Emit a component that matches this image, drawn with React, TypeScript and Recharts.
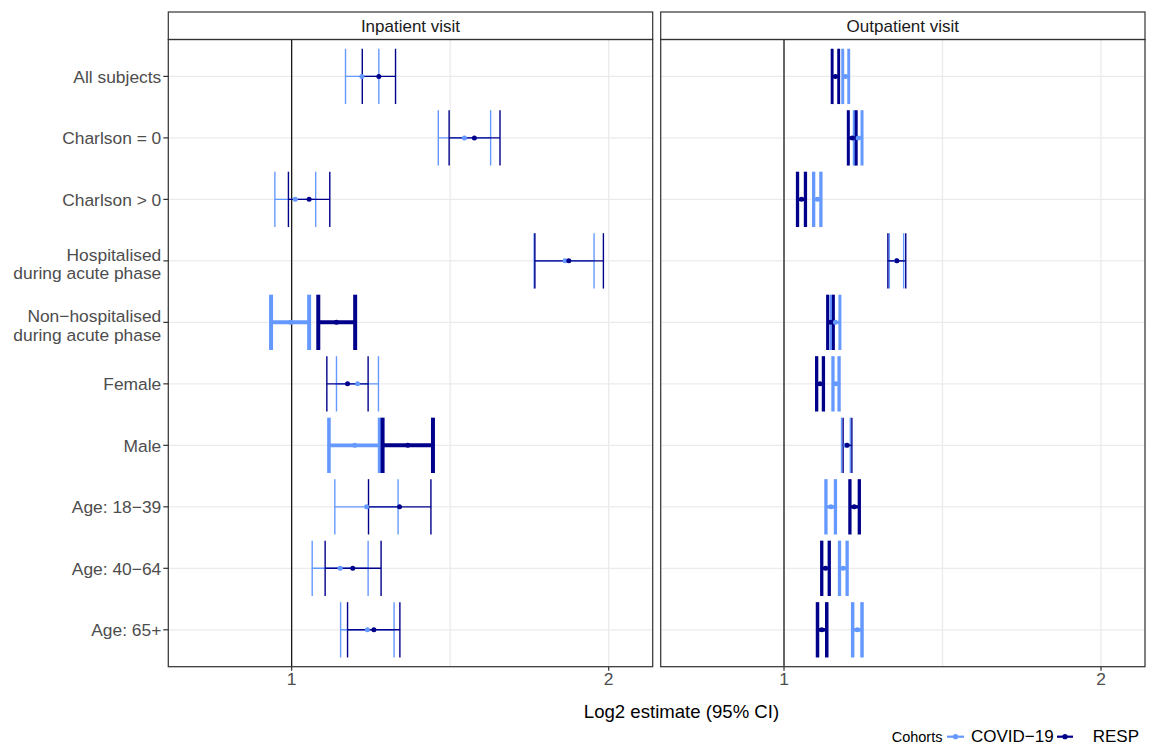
import React from "react";
import {
  ComposedChart,
  Scatter,
  ErrorBar,
  XAxis,
  YAxis,
  CartesianGrid,
  ReferenceLine,
} from "recharts";

// ---------------- data ----------------
const categories = [
  "All subjects",
  "Charlson = 0",
  "Charlson > 0",
  "Hospitalised\nduring acute phase",
  "Non\u2212hospitalised\nduring acute phase",
  "Female",
  "Male",
  "Age: 18\u221239",
  "Age: 40\u221264",
  "Age: 65+",
];
const panelTitles = ["Inpatient visit", "Outpatient visit"];
const cohorts = ["COVID\u221219", "RESP"];
const xTickValues = [1, 2];
const axisTitle = "Log2 estimate (95% CI)";
const legendTitle = "Cohorts";

// Inpatient visit
const inpCovidEst = [1.166, 1.459, 1.008, 1.818, 0.998, 1.155, 1.148, 1.178, 1.112, 1.18];
const inpCovidLo = [1.125, 1.378, 0.964, 1.699, 0.956, 1.103, 1.085, 1.099, 1.046, 1.113];
const inpCovidHi = [1.21, 1.545, 1.054, 1.937, 1.039, 1.209, 1.212, 1.262, 1.182, 1.251];
const inpRespEst = [1.21, 1.491, 1.039, 1.833, 1.103, 1.13, 1.289, 1.266, 1.143, 1.197];
const inpRespLo = [1.167, 1.411, 0.993, 1.702, 1.06, 1.08, 1.22, 1.183, 1.076, 1.13];
const inpRespHi = [1.255, 1.577, 1.087, 1.977, 1.149, 1.182, 1.362, 1.356, 1.216, 1.267];

// Outpatient visit
const outCovidEst = [1.144, 1.176, 1.076, 1.279, 1.119, 1.12, 1.145, 1.108, 1.138, 1.174];
const outCovidLo = [1.137, 1.166, 1.067, 1.259, 1.108, 1.113, 1.134, 1.096, 1.129, 1.162];
const outCovidHi = [1.152, 1.186, 1.084, 1.299, 1.13, 1.128, 1.156, 1.119, 1.148, 1.186];
const outRespEst = [1.119, 1.161, 1.039, 1.28, 1.107, 1.082, 1.148, 1.166, 1.095, 1.086];
const outRespLo = [1.111, 1.151, 1.03, 1.255, 1.1, 1.074, 1.138, 1.155, 1.086, 1.076];
const outRespHi = [1.127, 1.171, 1.048, 1.305, 1.114, 1.09, 1.16, 1.179, 1.104, 1.098];

// line weight per row (thin / thick error bars)
const inpCovidWeight = [1.4, 1.4, 1.4, 1.4, 4, 1.4, 3.6, 1.4, 1.4, 1.4];
const inpRespWeight = [1.4, 1.4, 1.4, 1.4, 4, 1.4, 4, 1.4, 1.4, 1.4];
const outCovidWeight = [2.9, 3, 3.3, 1.4, 3, 3.3, 1.4, 3.3, 3.3, 3.5];
const outRespWeight = [2.9, 3, 3.3, 1.4, 3, 3.3, 1.4, 3.3, 3.3, 3.5];

// ---------------- styling / layout ----------------
const FONT = "'Liberation Sans', Arial, Helvetica, sans-serif";
const COLORS = ["#6699FF", "#00008B"];
const X_DOMAIN: [number, number] = [Math.pow(2, -0.389), Math.pow(2, 1.1388)];
const Y_DOMAIN: [number, number] = [-0.6, 9.6];
const GRID_X = [1, Math.SQRT2, 2];
const ROWS = categories.map((_, i) => i);

const CHART_H = 700;
const PLOT_TOP = 39.5;
const PLOT_BOTTOM = 666.7;
const XAXIS_H = 30;
const PLOT_H = PLOT_BOTTOM - PLOT_TOP;
const CAP_HALF = (PLOT_H / (Y_DOMAIN[1] - Y_DOMAIN[0])) * 0.45;
const AXIS_FONT = 17.4;

const LEFT_PLOT = { x0: 168.3, x1: 652.7 };
const RIGHT_PLOT = { x0: 660.7, x1: 1145 };

type Row = { row: number; est: number; err: [number, number] };
function buildRows(est: number[], lo: number[], hi: number[]): Row[] {
  return est.map((e, i) => ({ row: i, est: e, err: [e - lo[i], hi[i] - e] }));
}

const panelData: Row[][][] = [
  [buildRows(inpCovidEst, inpCovidLo, inpCovidHi), buildRows(inpRespEst, inpRespLo, inpRespHi)],
  [buildRows(outCovidEst, outCovidLo, outCovidHi), buildRows(outRespEst, outRespLo, outRespHi)],
];
const panelWeights = [
  [inpCovidWeight, inpRespWeight],
  [outCovidWeight, outRespWeight],
];

const XTick = (props: any) => {
  const { x, y, payload } = props;
  if (!xTickValues.some((v) => Math.abs(v - payload.value) < 1e-9)) return <g />;
  return (
    <g>
      <line x1={x} x2={x} y1={y - 6} y2={y - 2} stroke="#333333" strokeWidth={1.2} />
      <text x={x} y={y} dy="0.71em" textAnchor="middle" fontSize={AXIS_FONT} fill="#4D4D4D" fontFamily={FONT}>
        {payload.value}
      </text>
    </g>
  );
};

const YTick = (props: any) => {
  const { x, y, payload } = props;
  const lines = (categories[payload.value] || "").split("\n");
  if (lines.length === 1) {
    return (
      <text x={x} y={y} dy={6.4} textAnchor="end" fontSize={AXIS_FONT} fill="#4D4D4D" fontFamily={FONT}>
        {lines[0]}
      </text>
    );
  }
  return (
    <g>
      <text x={x} y={y} dy={0} textAnchor="end" fontSize={AXIS_FONT} fill="#4D4D4D" fontFamily={FONT}>
        {lines[0]}
      </text>
      <text x={x} y={y} dy={18.2} textAnchor="end" fontSize={AXIS_FONT} fill="#4D4D4D" fontFamily={FONT}>
        {lines[1]}
      </text>
    </g>
  );
};

const EmptyShape = () => <g />;

function Panel(props: { panel: number; left: number; width: number; plot: { x0: number; x1: number }; showY: boolean }) {
  const { panel, left, width, plot, showY } = props;
  const yAxisWidth = showY ? plot.x0 - left : 0;
  const marginLeft = showY ? 0 : plot.x0 - left;
  const marginRight = left + width - plot.x1;
  const data = panelData[panel];
  const weights = panelWeights[panel];

  const errorSeries = [0, 1].flatMap((c) =>
    ROWS.map((r) => (
      <Scatter
        key={`eb-${c}-${r}`}
        data={[data[c][r]]}
        shape={EmptyShape}
        isAnimationActive={false}
      >
        <ErrorBar
          dataKey="err"
          direction="x"
          width={CAP_HALF}
          stroke={COLORS[c]}
          strokeWidth={weights[c][r]}
          isAnimationActive={false}
        />
      </Scatter>
    ))
  );
  const pointSeries = [0, 1].map((c) => (
    <Scatter
      key={`pt-${c}`}
      data={data[c]}
      isAnimationActive={false}
      shape={(p: any) => <circle cx={p.cx} cy={p.cy} r={2.5} fill={COLORS[c]} />}
    />
  ));

  return (
    <div style={{ position: "absolute", left, top: 0 }}>
      <ComposedChart
        width={width}
        height={CHART_H}
        margin={{ top: PLOT_TOP, right: marginRight, bottom: CHART_H - PLOT_BOTTOM - XAXIS_H, left: marginLeft }}
      >
        <CartesianGrid stroke="#EBEBEB" strokeWidth={1.3} />
        <XAxis
          type="number"
          dataKey="est"
          scale="log"
          domain={X_DOMAIN}
          allowDataOverflow
          ticks={GRID_X}
          interval={0}
          axisLine={false}
          tickLine={false}
          tickSize={4}
          tickMargin={2}
          height={XAXIS_H}
          tick={<XTick />}
        />
        <YAxis
          type="number"
          dataKey="row"
          domain={Y_DOMAIN}
          reversed
          allowDataOverflow
          ticks={ROWS}
          interval={0}
          hide={!showY}
          width={yAxisWidth}
          axisLine={false}
          tickSize={5}
          tickMargin={2}
          tickLine={{ stroke: "#333333", strokeWidth: 1.2 }}
          tick={<YTick />}
        />
        <ReferenceLine x={1} stroke="#1A1A1A" strokeWidth={1.3} />
        {errorSeries}
        {pointSeries}
      </ComposedChart>
    </div>
  );
}

export default function App() {
  const plots = [LEFT_PLOT, RIGHT_PLOT];
  return (
    <div
      style={{
        position: "absolute",
        left: 0,
        top: 0,
        width: 1155,
        height: 748,
        background: "#FFFFFF",
        fontFamily: FONT,
        overflow: "hidden",
      }}
    >
      <Panel panel={0} left={0} width={660} plot={LEFT_PLOT} showY />
      <Panel panel={1} left={655} width={500} plot={RIGHT_PLOT} showY={false} />
      <svg
        width={1155}
        height={748}
        style={{ position: "absolute", left: 0, top: 0, pointerEvents: "none" }}
      >
        {plots.map((p, i) => (
          <g key={`frame-${i}`}>
            <rect x={p.x0} y={12} width={p.x1 - p.x0} height={PLOT_TOP - 12} fill="#FFFFFF" stroke="#333333" strokeWidth={1.2} />
            <text x={(p.x0 + p.x1) / 2} y={32} textAnchor="middle" fontSize={17} fill="#1A1A1A" fontFamily={FONT}>
              {panelTitles[i]}
            </text>
            <rect x={p.x0} y={PLOT_TOP} width={p.x1 - p.x0} height={PLOT_H} fill="none" stroke="#333333" strokeWidth={1.2} />
          </g>
        ))}
        <text x={681.5} y={718.3} textAnchor="middle" fontSize={18.6} fill="#000000" fontFamily={FONT}>
          {axisTitle}
        </text>
        <text x={891.7} y={742} fontSize={14.5} fill="#000000" fontFamily={FONT}>
          {legendTitle}
        </text>
        {[
          { x0: 947, x1: 964, tx: 971 },
          { x0: 1057, x1: 1073, tx: 1092.7 },
        ].map((k, i) => (
          <g key={`leg-${i}`}>
            <line x1={k.x0} x2={k.x1} y1={736.7} y2={736.7} stroke={COLORS[i]} strokeWidth={2.2} />
            <circle cx={(k.x0 + k.x1) / 2} cy={736.7} r={2.6} fill={COLORS[i]} />
            <text x={k.tx} y={742} fontSize={17} fill="#000000" fontFamily={FONT}>
              {cohorts[i]}
            </text>
          </g>
        ))}
      </svg>
    </div>
  );
}
